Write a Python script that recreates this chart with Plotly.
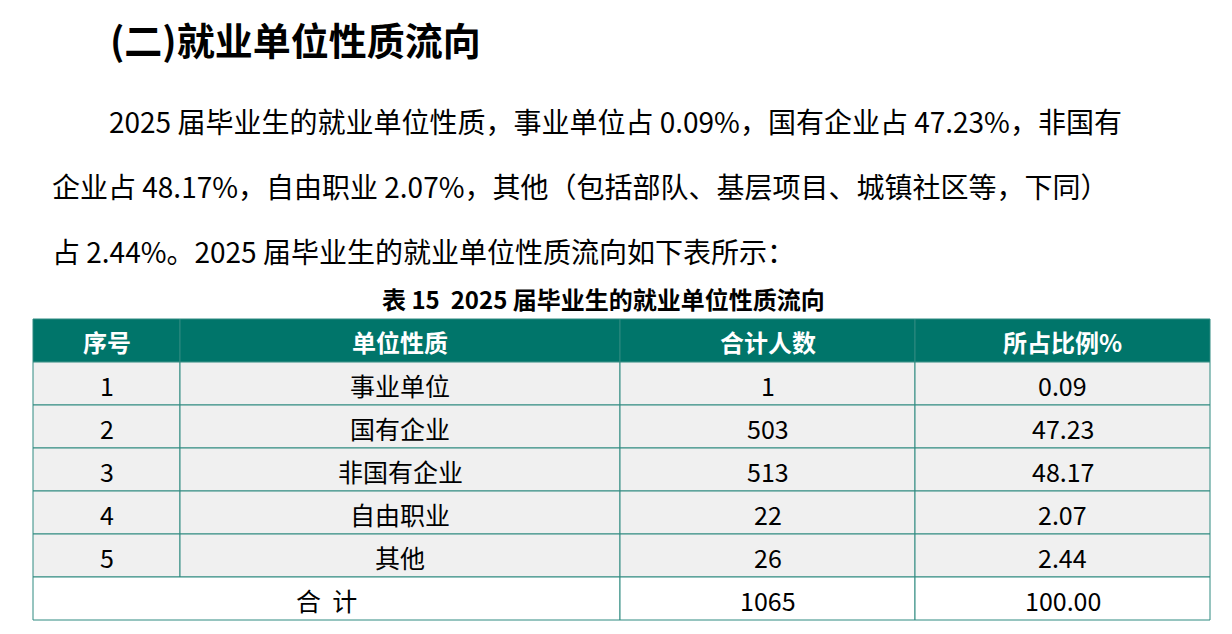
import plotly.graph_objects as go

# table data
headers = ["序号", "单位性质", "合计人数", "所占比例%"]
seq = ["1", "2", "3", "4", "5"]
unit_types = ["事业单位", "国有企业", "非国有企业", "自由职业", "其他"]
counts = [1, 503, 513, 22, 26]
ratios = ["0.09", "47.23", "48.17", "2.07", "2.44"]
total_label = "合  计"
total_count = 1065
total_ratio = "100.00"

title = "(二)就业单位性质流向"
para_lines = [
    "2025 届毕业生的就业单位性质，事业单位占 0.09%，国有企业占 47.23%，非国有",
    "企业占 48.17%，自由职业 2.07%，其他（包括部队、基层项目、城镇社区等，下同）",
    "占 2.44%。2025 届毕业生的就业单位性质流向如下表所示：",
]
caption = "表 15  2025 届毕业生的就业单位性质流向"

W, H = 1232, 634
off = 8  # page body margin
col_edges = [33, 180, 620, 915, 1210]
top = 319
row_h = 43
teal = "#00756a"
line_col = "#2f8a80"
font = "Noto Sans CJK SC"

fig = go.Figure()
shapes = []
ann = []

def cell(x0, x1, y0, y1, fill):
    shapes.append(dict(type="rect", xref="x", yref="y", x0=x0 - off, x1=x1 - off,
                       y0=y0 - off, y1=y1 - off,
                       fillcolor=fill, line=dict(color=line_col, width=1), layer="below"))

def text(x, y, s, size=25, color="black", bold=False, anchor="center"):
    ann.append(dict(x=x - off, y=y - off, xref="x", yref="y",
                    text=f"<b>{s}</b>" if bold else s,
                    showarrow=False, xanchor=anchor, yanchor="middle",
                    font=dict(family=font, size=size, color=color)))

# header
for i, h in enumerate(headers):
    x0, x1 = col_edges[i], col_edges[i + 1]
    cell(x0, x1, top, top + row_h, teal)
    text((x0 + x1) / 2, top + row_h / 2 + 1, h, size=24, color="white", bold=True)

# body
for r in range(len(seq)):
    y0 = top + row_h * (r + 1)
    vals = [seq[r], unit_types[r], str(counts[r]), ratios[r]]
    for i, v in enumerate(vals):
        x0, x1 = col_edges[i], col_edges[i + 1]
        cell(x0, x1, y0, y0 + row_h, "#f0f0f0")
        text((x0 + x1) / 2, y0 + row_h / 2 + 1, v)

# total row (merged first two columns)
y0 = top + row_h * (len(seq) + 1)
cell(col_edges[0], col_edges[2], y0, y0 + row_h, "white")
text((col_edges[0] + col_edges[2]) / 2, y0 + row_h / 2 + 1, total_label)
for i, v in [(2, str(total_count)), (3, total_ratio)]:
    cell(col_edges[i], col_edges[i + 1], y0, y0 + row_h, "white")
    text((col_edges[i] + col_edges[i + 1]) / 2, y0 + row_h / 2 + 1, v)

# heading, paragraph, caption
text(108, 38, title, size=38, bold=True, anchor="left")
text(107, 121, para_lines[0], size=28, anchor="left")
text(50, 186, para_lines[1], size=28, anchor="left")
text(50, 251, para_lines[2], size=28, anchor="left")
text(603, 298, caption, size=24, bold=True)

fig.update_layout(
    width=W, height=H, margin=dict(l=0, r=0, t=0, b=0),
    paper_bgcolor="white", plot_bgcolor="white",
    xaxis=dict(range=[0, W], visible=False, fixedrange=True),
    yaxis=dict(range=[H, 0], visible=False, fixedrange=True),
    shapes=shapes, annotations=ann, showlegend=False,
)
fig.write_html("out.html")
